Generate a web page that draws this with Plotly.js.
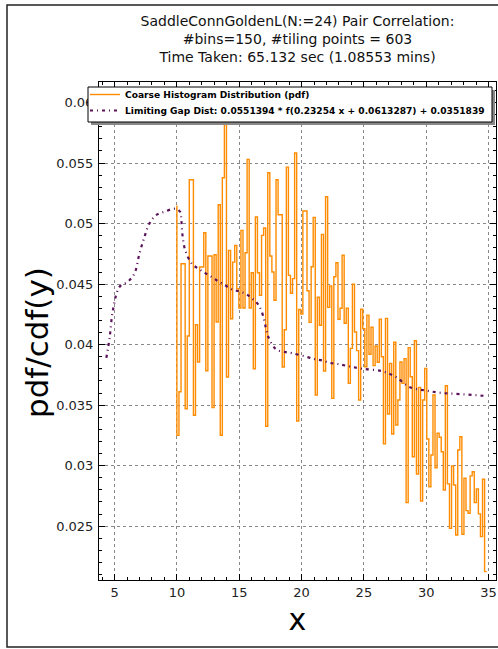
<!DOCTYPE html>
<html>
<head>
<meta charset="utf-8">
<script src="https://cdn.plot.ly/plotly-3.0.1.min.js"></script>
<style>html,body{margin:0;padding:0;background:#fff;}#chart{width:498px;height:649px;}</style>
</head>
<body>
<div id="chart"></div>
<script>
// ---- data ----
const histStart = 10.0;
const histEnd = 34.85;
const histStartTop = 0.0515;
const histValues = [
  0.0325, 0.0361, 0.04668, 0.04668, 0.0347, 0.04071, 0.05362, 0.05362, 0.03416, 0.04164,
  0.03856, 0.04641, 0.04641, 0.04924, 0.03784, 0.04732, 0.04732, 0.03479, 0.04743, 0.04187,
  0.05156, 0.03251, 0.05379, 0.0605, 0.03732, 0.04779, 0.04214, 0.04682, 0.0482, 0.04462,
  0.04302, 0.04944, 0.04302, 0.04759, 0.05531, 0.04302, 0.04594, 0.03801, 0.05054, 0.04594,
  0.04407, 0.04903, 0.04963, 0.03325, 0.0542, 0.04732, 0.046, 0.04366, 0.05362, 0.05073,
  0.05073, 0.03815, 0.04123, 0.05467, 0.04572, 0.04424, 0.04545, 0.05583, 0.03369, 0.0429,
  0.04253, 0.05104, 0.05104, 0.04445, 0.04184, 0.04644, 0.05051, 0.03584, 0.04391, 0.0416,
  0.04911, 0.03782, 0.05222, 0.04308, 0.04484, 0.03556, 0.04561, 0.04677, 0.04209, 0.043,
  0.04738, 0.04176, 0.043, 0.0368, 0.03969, 0.045, 0.04104, 0.0395, 0.03542, 0.04292,
  0.04132, 0.03817, 0.04244, 0.0392, 0.04143, 0.03826, 0.03988, 0.03854, 0.04211, 0.039,
  0.0318, 0.04217, 0.03427, 0.03845, 0.03262, 0.04019, 0.03336, 0.03542, 0.03856, 0.0368,
  0.03884, 0.02694, 0.03975, 0.03735, 0.03074, 0.04032, 0.02931, 0.03647, 0.02708, 0.03542,
  0.03804, 0.0322, 0.02826, 0.03088, 0.03584, 0.02983, 0.03267, 0.03234, 0.03115, 0.02799,
  0.0366, 0.02849, 0.02483, 0.02997, 0.0284, 0.02427, 0.03129, 0.03239, 0.02433, 0.02896,
  0.02628, 0.02606, 0.02915, 0.0295, 0.02694, 0.02807, 0.02601, 0.02413, 0.02887, 0.02124
];
const gapX = [4.34, 4.6, 4.87, 5.4, 6.07, 6.6, 7.0, 7.4, 7.8, 8.33, 9.0, 9.7, 10.0, 10.27, 10.35,
  10.45, 10.67, 11.2, 11.73, 12.27, 12.8, 13.33, 13.87, 14.4, 14.99, 15.52, 16.05, 16.6, 16.99,
  17.15, 17.35, 17.97, 18.64, 19.2, 20.37, 21.04, 21.62, 22.24, 22.9, 23.84, 24.9, 26.5, 27.6,
  28.64, 29.97, 31.3, 32.9, 34.9];
const gapY = [0.0389, 0.04055, 0.04286, 0.04478, 0.0452, 0.04589, 0.04754, 0.04891, 0.05002, 0.0507,
  0.05098, 0.05122, 0.0512, 0.05095, 0.05035, 0.04903, 0.04779, 0.04668, 0.04627, 0.04591, 0.04558,
  0.04523, 0.0449, 0.04457, 0.0444, 0.0442, 0.0438, 0.0432, 0.0421, 0.0413, 0.0406, 0.0396, 0.0394,
  0.0393, 0.0390, 0.0388, 0.0387, 0.0385, 0.0384, 0.0382, 0.0380, 0.0378, 0.0373, 0.0365, 0.0362,
  0.0360, 0.0359, 0.03575];
const titleLines = ["SaddleConnGoldenL(N:=24) Pair Correlation:", "#bins=150, #tiling points = 603",
  "Time Taken: 65.132 sec (1.08553 mins)"];
const histName = "Coarse Histogram Distribution (pdf)";
const gapName = "Limiting Gap Dist: 0.0551394 * f(0.23254 x + 0.0613287) + 0.0351839";
const xTitle = "x";
const yTitle = "pdf/cdf(y)";
const xTickVals = [5, 10, 15, 20, 25, 30, 35];
const yTickVals = [0.025, 0.03, 0.035, 0.04, 0.045, 0.05, 0.055, 0.06];
const yTickText = ["0.025", "0.03", "0.035", "0.04", "0.045", "0.05", "0.055", "0.06"];

// ---- build step trace ----
const n = histValues.length;
const w = (histEnd - histStart) / n;
const hx = [histStart], hy = [histStartTop];
for (let i = 0; i < n; i++) { hx.push(histStart + i * w); hy.push(histValues[i]); }
hx.push(histEnd); hy.push(histValues[n - 1]);

const FONT = "DejaVu Sans, Bitstream Vera Sans, sans-serif";
const traces = [
  {x: hx, y: hy, type: "scatter", mode: "lines", name: histName, legend: "legend",
   line: {shape: "hv", color: "#ff8c00", width: 1.4}},
  {x: gapX, y: gapY, type: "scatter", mode: "lines", name: gapName, legend: "legend2",
   line: {color: "#5a1259", width: 2.2, dash: "3px,4px,1px,4px", shape: "spline"}}
];

const L = 99, R = 496, T = 82, B = 580;
const pw = R - L, ph = B - T;
const px = v => (v - L) / pw;
const py = v => (B - v) / ph;

const legFont = {family: FONT, size: 9.1, color: "#000", weight: "bold"};
const layout = {
  width: 498, height: 649,
  margin: {l: L, r: 498 - R, t: T, b: 649 - B},
  paper_bgcolor: "#fff", plot_bgcolor: "#fff",
  font: {family: FONT, color: "#222", size: 13},
  showlegend: true,
  title: {text: titleLines.join("<br>"), font: {family: FONT, size: 14, color: "#111"},
    x: 0.5, xref: "paper", xanchor: "center", y: 1 - 26 / 649, yref: "container", yanchor: "top"},
  xaxis: {range: [3.75, 35.6], tickvals: xTickVals, ticks: "inside", ticklen: 6, tickcolor: "#000",
    showline: true, linecolor: "#000", linewidth: 1, mirror: "allticks",
    showgrid: true, gridcolor: "#888", griddash: "dot", gridwidth: 1, zeroline: false,
    minor: {dtick: 1, tick0: 0, ticks: "inside", ticklen: 3, tickcolor: "#000", showgrid: false},
    tickfont: {size: 13, family: FONT, color: "#222"},
    title: {text: xTitle, font: {size: 30, family: FONT, color: "#000"}, standoff: 10}},
  yaxis: {range: [0.02055, 0.0617], tickvals: yTickVals, ticktext: yTickText, ticks: "inside", ticklen: 6, tickcolor: "#000",
    showline: true, linecolor: "#000", linewidth: 1, mirror: "allticks",
    showgrid: true, gridcolor: "#888", griddash: "dot", gridwidth: 1, zeroline: false,
    minor: {dtick: 0.001, tick0: 0, ticks: "inside", ticklen: 3, tickcolor: "#000", showgrid: false},
    tickfont: {size: 13, family: FONT, color: "#222"}, ticklabelstandoff: 2},
  legend: {x: px(85), y: py(80), xanchor: "left", yanchor: "top", bgcolor: "rgba(0,0,0,0)",
    borderwidth: 0, font: legFont, itemwidth: 30},
  legend2: {x: px(85), y: py(96), xanchor: "left", yanchor: "top", bgcolor: "rgba(0,0,0,0)",
    borderwidth: 0, font: legFont, itemwidth: 30},
  annotations: [
    {text: yTitle, xref: "paper", yref: "paper", x: px(37), y: py(343), textangle: -90,
     showarrow: false, xanchor: "center", yanchor: "middle", font: {size: 31, family: FONT, color: "#000"}}
  ],
  shapes: [
    {type: "rect", xref: "paper", yref: "paper", x0: px(91), x1: px(495), y0: py(125), y1: py(90),
     fillcolor: "#888", line: {width: 0}, layer: "above"},
    {type: "rect", xref: "paper", yref: "paper", x0: px(88), x1: px(492), y0: py(122), y1: py(87),
     fillcolor: "#fff", line: {color: "#000", width: 1}, layer: "above"},
    {type: "rect", xref: "paper", yref: "paper", x0: px(7), x1: px(540), y0: py(647), y1: py(5),
     fillcolor: "rgba(0,0,0,0)", line: {color: "#222", width: 1.5}, layer: "below"}
  ]
};

Plotly.newPlot("chart", traces, layout, {staticPlot: true, displayModeBar: false});
</script>
</body>
</html>
